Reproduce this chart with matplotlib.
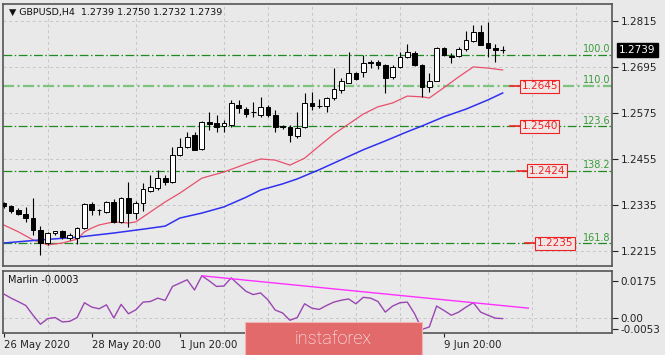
import numpy as np
import matplotlib
matplotlib.use('Agg')
import matplotlib.pyplot as plt
from matplotlib.patches import Rectangle

# GBPUSD H4 candles
opens = [1.2340, 1.2332, 1.2322, 1.2311, 1.2301, 1.2270, 1.2236, 1.2262, 1.2266, 1.2250,
         1.2250, 1.2276, 1.2338, 1.2322, 1.2318, 1.2343, 1.2291, 1.2353, 1.2314, 1.2340,
         1.2372, 1.2380, 1.2405, 1.2395, 1.2465, 1.2487, 1.2517, 1.2481, 1.2551, 1.2549,
         1.2541, 1.2544, 1.2596, 1.2585, 1.2577, 1.2570, 1.2591, 1.2570, 1.2540, 1.2539,
         1.2515, 1.2539, 1.2601, 1.2593, 1.2593, 1.2614, 1.2636, 1.2653, 1.2679, 1.2682,
         1.2708, 1.2708, 1.2700, 1.2669, 1.2695, 1.2721, 1.2732, 1.2700, 1.2643, 1.2659,
         1.2745, 1.2724, 1.2724, 1.2742, 1.2763, 1.2786, 1.2757, 1.2745, 1.2739]
highs = [1.2344, 1.2335, 1.2326, 1.2330, 1.2353, 1.2280, 1.2265, 1.2268, 1.2270, 1.2262,
         1.2278, 1.2341, 1.2343, 1.2324, 1.2346, 1.2350, 1.2356, 1.2395, 1.2345, 1.2392,
         1.2413, 1.2426, 1.2413, 1.2486, 1.2510, 1.2525, 1.2525, 1.2554, 1.2577, 1.2570,
         1.2556, 1.2609, 1.2609, 1.2591, 1.2604, 1.2617, 1.2596, 1.2583, 1.2544, 1.2544,
         1.2577, 1.2627, 1.2630, 1.2612, 1.2617, 1.2692, 1.2666, 1.2734, 1.2682, 1.2726,
         1.2713, 1.2713, 1.2703, 1.2700, 1.2734, 1.2755, 1.2737, 1.2703, 1.2679, 1.2747,
         1.2747, 1.2732, 1.2747, 1.2789, 1.2805, 1.2805, 1.2812, 1.2755, 1.2750]
lows = [1.2328, 1.2315, 1.2308, 1.2290, 1.2257, 1.2204, 1.2230, 1.2258, 1.2246, 1.2245,
        1.2233, 1.2272, 1.2310, 1.2310, 1.2314, 1.2287, 1.2289, 1.2277, 1.2298, 1.2320,
        1.2368, 1.2374, 1.2387, 1.2392, 1.2462, 1.2484, 1.2478, 1.2478, 1.2531, 1.2525,
        1.2526, 1.2538, 1.2575, 1.2565, 1.2565, 1.2565, 1.2565, 1.2526, 1.2534, 1.2499,
        1.2510, 1.2536, 1.2583, 1.2588, 1.2578, 1.2609, 1.2627, 1.2653, 1.2660, 1.2669,
        1.2692, 1.2690, 1.2627, 1.2664, 1.2692, 1.2719, 1.2697, 1.2617, 1.2630, 1.2657,
        1.2724, 1.2705, 1.2721, 1.2737, 1.2760, 1.2752, 1.2721, 1.2708, 1.2732]
closes = [1.2332, 1.2320, 1.2312, 1.2301, 1.2270, 1.2236, 1.2262, 1.2266, 1.2252, 1.2256,
          1.2276, 1.2338, 1.2322, 1.2321, 1.2343, 1.2291, 1.2353, 1.2314, 1.2340, 1.2377,
          1.2382, 1.2405, 1.2395, 1.2465, 1.2487, 1.2513, 1.2479, 1.2551, 1.2546, 1.2539,
          1.2549, 1.2601, 1.2588, 1.2573, 1.2578, 1.2591, 1.2570, 1.2539, 1.2539, 1.2518,
          1.2536, 1.2601, 1.2593, 1.2594, 1.2614, 1.2638, 1.2657, 1.2679, 1.2664, 1.2705,
          1.2705, 1.2700, 1.2666, 1.2695, 1.2721, 1.2734, 1.2700, 1.2643, 1.2659, 1.2745,
          1.2726, 1.2721, 1.2742, 1.2765, 1.2786, 1.2752, 1.2745, 1.2739, 1.2739]

# moving averages (red fast, blue slow), sampled at bar indices
red_idx = [0, 2, 4, 6, 8, 10, 11, 12, 13, 15, 17, 18, 20, 22, 24, 27, 30, 33, 35, 37,
           39, 41, 43, 45, 47, 49, 51, 53, 55, 57, 58, 60, 62, 64, 66, 68]
red_val = [1.2283, 1.2265, 1.2244, 1.2231, 1.2236, 1.2246, 1.2265, 1.2275, 1.2283, 1.2291,
           1.2288, 1.2291, 1.2317, 1.2343, 1.2366, 1.2405, 1.2421, 1.2442, 1.2455, 1.2452,
           1.2439, 1.2457, 1.2489, 1.2520, 1.2546, 1.2572, 1.2591, 1.2601, 1.2619, 1.2617,
           1.2614, 1.2641, 1.2669, 1.2695, 1.2692, 1.2687]
blue_idx = [0, 5, 10, 15, 19, 22, 24, 27, 30, 33, 35, 38, 40, 43, 46, 49, 52, 55, 57, 60,
            63, 66, 68]
blue_val = [1.2236, 1.2244, 1.2251, 1.2262, 1.2272, 1.2280, 1.2301, 1.2314, 1.2330, 1.2355,
            1.2374, 1.2390, 1.2403, 1.2427, 1.2453, 1.2479, 1.2502, 1.2526, 1.2541, 1.2565,
            1.2585, 1.2609, 1.2627]

# fibo levels
fib_names = ['100.0', '110.0', '123.6', '138.2', '161.8']
fib_prices = [1.2726, 1.2645, 1.2540, 1.2424, 1.2235]
price_tags = ['1.2645', '1.2540', '1.2424', '1.2235']
tag_prices = [1.2645, 1.2540, 1.2424, 1.2235]

# Marlin oscillator, one value per bar
marlin = [0.0115, 0.0095, 0.0078, 0.0060, 0.0013, -0.0030, -0.0003, 0.0002, -0.0019, -0.0016,
          0.0002, 0.0073, 0.0052, 0.0044, 0.0063, 0.0000, 0.0065, 0.0020, 0.0039, 0.0076,
          0.0079, 0.0095, 0.0084, 0.0151, 0.0167, 0.0183, 0.0134, 0.0202, 0.0178, 0.0151,
          0.0153, 0.0192, 0.0160, 0.0128, 0.0112, 0.0120, 0.0087, 0.0038, 0.0024, -0.0011,
          0.0002, 0.0068, 0.0047, 0.0041, 0.0060, 0.0076, 0.0085, 0.0091, 0.0068, 0.0099,
          0.0095, 0.0079, 0.0028, 0.0057, 0.0073, 0.0076, 0.0020, -0.0055, -0.0043, 0.0057,
          0.0036, 0.0013, 0.0028, 0.0052, 0.0073, 0.0028, 0.0013, -0.0001, -0.0003]
trend_idx = [27, 71.5]
trend_val = [0.0202, 0.0047]

price_ticks = [1.2215, 1.2335, 1.2455, 1.2575, 1.2695, 1.2815]
osc_ticks = [0.0175, 0.0, -0.0053]
osc_labels = ['0.0175', '0.00', '-0.0053']
# the 3 Jun / 5 Jun labels sit under the instaforex stamp, so they are left out
date_pos = [0, 12, 24, 60]
date_labels = ['26 May 2020', '28 May 20:00', '1 Jun 20:00', '9 Jun 20:00']

bg = '#e9e9e9'
W, H = 665, 355
fig = plt.figure(figsize=(6.65, 3.55), dpi=100, facecolor=bg)
ax = fig.add_axes([3 / W, 1 - 266 / H, 609 / W, 262 / H])
ax2 = fig.add_axes([3 / W, 1 - 333 / H, 609 / W, 62 / H], sharex=ax)

for a in (ax, ax2):
    a.set_facecolor(bg)
    for s in a.spines.values():
        s.set_color('#555555')
        s.set_linewidth(1.2)
    a.yaxis.tick_right()
    a.tick_params(axis='y', direction='out', length=4, width=0.8, labelsize=7.5, pad=2, colors='#222222')
    a.set_xticks(range(0, 84, 6), minor=True)
    a.grid(True, which='minor', axis='x', color='#c6c6c6', linestyle=(0, (3, 3)), lw=0.7)
    a.set_axisbelow(True)

ax.set_xlim(-0.1, 82.9)
ax.set_ylim(1.2176, 1.2859)
ax.set_yticks(price_ticks, labels=['%.4f' % p for p in price_ticks])
ax.grid(True, which='major', axis='y', color='#c6c6c6', linestyle=(0, (3, 3)), lw=0.7)
ax.tick_params(axis='x', which='both', length=0, labelbottom=False)

# fibo lines
for name, lvl in zip(fib_names, fib_prices):
    if name == '110.0':
        ax.axhline(lvl, color='#7cc47c', lw=1.6, ls=(0, (5, 1.5, 1, 1.5)), zorder=1)
    else:
        ax.axhline(lvl, color='#1f8a1f', lw=0.9, ls=(0, (7, 2, 1.2, 2)), zorder=1)
    ax.text(82.7, lvl + 0.0002, name, color='#3a9a3a', fontsize=7, ha='right', va='bottom')

# moving averages
ax.plot(red_idx, red_val, color='#e8506c', lw=0.9, zorder=2)
ax.plot(blue_idx, blue_val, color='#3030f0', lw=1.1, zorder=2)

# candles
x = np.arange(len(opens))
o = np.array(opens)
c = np.array(closes)
up = c >= o
ax.vlines(x, lows, highs, color='black', lw=0.8, zorder=3)
ax.bar(x, np.maximum(np.abs(c - o), 0.00003), bottom=np.minimum(o, c), width=0.64,
       color=np.where(up, 'white', 'black'), edgecolor='black', lw=0.7, zorder=4)

# price tags on the right of the last bar
tag_x = [70.3, 70.3, 71.3, 72.4]
for t, p, tx in zip(price_tags, tag_prices, tag_x):
    ax.plot([tx - 1.3, tx], [p, p], color='#ee2222', lw=1.2, zorder=5)
    ax.text(tx + 0.25, p, t, color='#ee2222', fontsize=7.5, ha='left', va='center', zorder=6,
            bbox=dict(boxstyle='square,pad=0.15', facecolor='#f1e6e6', edgecolor='#ee2222', lw=0.8))

# current price box
ax.annotate('1.2739', xy=(1.0, 1.2739), xycoords=('axes fraction', 'data'),
            xytext=(5, 0), textcoords='offset points', color='white', fontsize=7.5,
            ha='left', va='center', annotation_clip=False,
            bbox=dict(boxstyle='square,pad=0.2', facecolor='black', edgecolor='black'))

ax.text(6 / 609, 1 - 8 / 262, '\u25bc GBPUSD,H4  1.2739 1.2750 1.2732 1.2739',
        transform=ax.transAxes, fontsize=6.8, ha='left', va='center', color='#111111')

# Marlin panel
ax2.set_ylim(-0.0072, 0.0225)
ax2.set_yticks(osc_ticks, labels=osc_labels)
ax2.axhline(0.0, color='#c6c6c6', linestyle=(0, (3, 3)), lw=0.7, zorder=0)
ax2.plot(x, marlin, color='#9a46b2', lw=1.0, zorder=3)
ax2.plot(trend_idx, trend_val, color='#ff30ff', lw=1.0, zorder=3)
ax2.text(5 / 609, 0.85, 'Marlin -0.0003', transform=ax2.transAxes, fontsize=7, ha='left',
         va='center', color='#111111')
ax2.set_xticks(date_pos, labels=date_labels)
ax2.tick_params(axis='x', which='major', direction='out', length=3, width=0.8, labelsize=7.3,
                pad=2, colors='#222222')
ax2.tick_params(axis='x', which='minor', length=0)
for lab in ax2.get_xticklabels():
    lab.set_horizontalalignment('left')

# instaforex stamp
fig.patches.append(Rectangle((245 / W, 0), 177 / W, 33 / H, transform=fig.transFigure,
                             facecolor='#e36a6a', edgecolor='#f2b4b4', lw=0.8, zorder=10))
fig.text(333 / W, 16 / H, 'instaforex', color='white', fontsize=13, family='Roboto',
         fontweight='light', ha='center', va='center', zorder=11)

fig.savefig('out.png', dpi=100, facecolor=bg)
